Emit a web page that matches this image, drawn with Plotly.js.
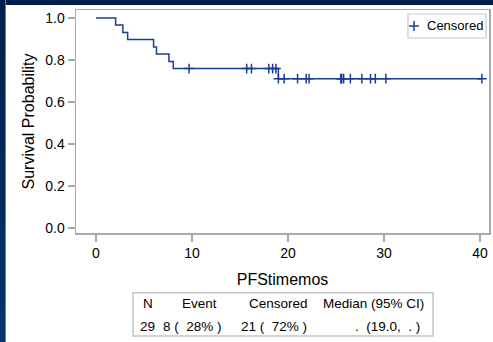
<!DOCTYPE html>
<html>
<head>
<meta charset="utf-8">
<script src="https://cdn.plot.ly/plotly-3.0.1.min.js"></script>
<style>
  html, body { margin: 0; padding: 0; background: #ffffff; }
  #wrap { position: relative; width: 493px; height: 342px; overflow: hidden; }
  #chart { position: absolute; left: 0; top: 0; width: 493px; height: 342px; }
  .bar-top { position: absolute; left: 0; top: 0; width: 493px; height: 5px; background: #001f4b; }
  .bar-left { position: absolute; left: 0; top: 0; width: 5px; height: 342px; background: linear-gradient(#001f4b, #06356a); border-right: 1px solid #5a7fb0; }
</style>
</head>
<body>
<div id="wrap">
  <div id="chart"></div>
  <div class="bar-top"></div>
  <div class="bar-left"></div>
</div>
<script>
// Kaplan-Meier step curve (time in months, survival probability)
const stepTimes = [0, 2.05, 2.8, 3.3, 6.0, 6.3, 7.6, 8.05, 19.0, 40.2];
const survival  = [1.0, 0.966, 0.931, 0.897, 0.862, 0.828, 0.793, 0.759, 0.711, 0.711];

// Censored observations
const censorTimes = [9.7, 15.7, 16.2, 18.0, 18.4, 18.75,
                     19.0, 19.6, 21.0, 21.9, 22.2, 25.5, 25.6, 25.8, 26.5, 27.7, 28.6, 29.1, 30.2, 40.2];
const censorSurv  = [0.759, 0.759, 0.759, 0.759, 0.759, 0.759,
                     0.711, 0.711, 0.711, 0.711, 0.711, 0.711, 0.711, 0.711, 0.711, 0.711, 0.711, 0.711, 0.711, 0.711];

// Summary table
const tableHeader = ['N', 'Event', 'Censored', 'Median (95% CI)'];
const tableRow = ['29', '8 (\u00a0\u00a028% )', '21 (\u00a0\u00a072% )', '.\u00a0\u00a0(19.0,\u00a0\u00a0.\u00a0)'];

const legendLabel = 'Censored';
const xTicks = [0, 10, 20, 30, 40];
const yTicks = [0.0, 0.2, 0.4, 0.6, 0.8, 1.0];

const W = 493, H = 342;
const L = 76, T = 10, R = 489, B = 233;
const pw = R - L, ph = B - T;
const px = x => (x - L) / pw;
const py = y => (B - y) / ph;

const blue = '#1c3c9a';
const font = 'Arial, "Liberation Sans", sans-serif';
const markerStyle = { symbol: 'cross-thin-open', size: 7, line: { color: blue, width: 1.5 }, color: blue };

const traces = [
  {
    x: stepTimes, y: survival, type: 'scatter', mode: 'lines',
    line: { shape: 'hv', color: blue, width: 1.5 },
    showlegend: false, hoverinfo: 'skip'
  },
  {
    x: censorTimes, y: censorSurv, type: 'scatter', mode: 'markers',
    name: legendLabel, marker: markerStyle, showlegend: false
  },
  // legend symbol, drawn on an overlay axis spanning the plot area in pixel-like units
  {
    x: [414], y: [26], xaxis: 'x2', yaxis: 'y2', type: 'scatter', mode: 'markers',
    marker: markerStyle, showlegend: false, hoverinfo: 'skip'
  }
];

const colCenters = [148, 199, 278, 373];
const rowCenters = [147, 192.5, 274, 387.5];
const annotations = [];
tableHeader.forEach((t, i) => annotations.push({
  text: t, xref: 'paper', yref: 'paper', x: px(colCenters[i]), y: py(303),
  xanchor: 'center', yanchor: 'middle', showarrow: false,
  font: { family: font, size: 13.5, color: '#000' }
}));
tableRow.forEach((t, i) => annotations.push({
  text: t, xref: 'paper', yref: 'paper', x: px(rowCenters[i]), y: py(326),
  xanchor: 'center', yanchor: 'middle', showarrow: false,
  font: { family: font, size: 13.5, color: '#000' }
}));
annotations.push({
  text: legendLabel, xref: 'paper', yref: 'paper', x: px(425), y: py(26),
  xanchor: 'left', yanchor: 'middle', showarrow: false,
  font: { family: font, size: 13, color: '#000' }
});

const layout = {
  width: W, height: H,
  margin: { l: L, t: T, r: W - R, b: H - B, pad: 0 },
  paper_bgcolor: '#ffffff', plot_bgcolor: '#ffffff',
  font: { family: font, size: 13, color: '#000' },
  xaxis: {
    range: [-2.08, 40.94], tickvals: xTicks, ticktext: xTicks.map(String),
    showgrid: false, zeroline: false, showline: true, mirror: true,
    linecolor: '#a9a9a9', linewidth: 1.5,
    ticks: 'outside', ticklen: 7, tickcolor: '#a9a9a9', tickwidth: 1.5,
    tickfont: { family: font, size: 14, color: '#000' },
    title: { text: 'PFStimemos', font: { family: font, size: 16, color: '#000' }, standoff: 13 },
    automargin: false
  },
  yaxis: {
    range: [-0.024, 1.038], tickvals: yTicks, ticktext: yTicks.map(v => v.toFixed(1)),
    showgrid: false, zeroline: false, showline: true, mirror: true,
    linecolor: '#a9a9a9', linewidth: 1.5,
    ticks: 'outside', ticklen: 7, tickcolor: '#a9a9a9', tickwidth: 1.5,
    tickfont: { family: font, size: 14, color: '#000' },
    title: { text: 'Survival Probability', font: { family: font, size: 16, color: '#000' }, standoff: 6 },
    automargin: false
  },
  xaxis2: { overlaying: 'x', range: [L, R], visible: false, fixedrange: true },
  yaxis2: { overlaying: 'y', range: [B, T], visible: false, fixedrange: true },
  showlegend: false,
  shapes: [
    { type: 'rect', xref: 'paper', yref: 'paper', x0: px(133), x1: px(433), y0: py(292.7), y1: py(336),
      line: { color: '#c4c4c4', width: 1.5 }, fillcolor: 'rgba(0,0,0,0)' },
    { type: 'rect', xref: 'paper', yref: 'paper', x0: px(408), x1: px(486), y0: py(14), y1: py(38),
      line: { color: '#c8c8c8', width: 1.2 }, fillcolor: 'rgba(0,0,0,0)' }
  ],
  annotations: annotations
};

Plotly.newPlot('chart', traces, layout, { staticPlot: true, displayModeBar: false });
</script>
</body>
</html>
